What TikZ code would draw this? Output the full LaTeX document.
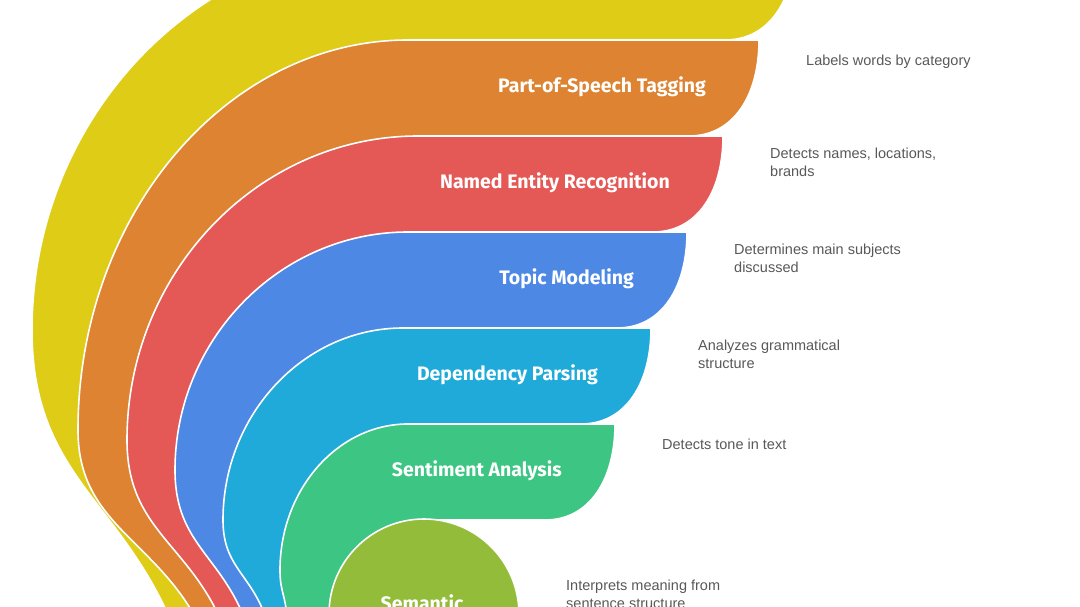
\documentclass[tikz,border=0pt]{standalone}
\usepackage{fontspec}
\setmainfont{Liberation Sans}
\newfontfamily\lab{Fira Sans}
\begin{document}
\begin{tikzpicture}[x=1pt,y=-1pt,
  lbl/.style={font=\lab\bfseries\fontsize{19.5}{20}\selectfont,text=white,anchor=east,inner sep=0},
  dsc/.style={font=\fontsize{14.5}{18}\selectfont,text=black!65,anchor=north west,align=left,inner sep=0}]
\newcommand\myband[7]{% color, ytop, xr, xl, ym, xb, xt
  \pgfmathsetmacro\xa{#6-0.4*(#6-#4)}
  \pgfmathsetmacro\ya{607-0.4*(607-#5)}
  \pgfmathsetmacro\yb{#5+0.5*(607-#5)}
  \pgfmathsetmacro\yc{#5-0.55*(#5-#2)}
  \pgfmathsetmacro\xc{#7-0.55*(#7-#4)}
  \pgfmathsetmacro\yd{#2+96}
  \pgfmathsetmacro\ye{#2+55}
  \pgfmathsetmacro\xe{#3-25}
  \pgfmathsetmacro\xf{#3-70}
  \fill[#1,draw=white,line width=1.6pt] (#6,608) .. controls (\xa,\ya) and (#4,\yb) .. (#4,#5)
    .. controls (#4,\yc) and (\xc,#2) .. (#7,#2) -- (#3,#2)
    .. controls (#3,\ye) and (\xe,\yd) .. (\xf,\yd) -- (424,\yd) -- (424,700) -- cycle;}
\clip (0,0) rectangle (1080,607);
\fill[white] (0,0) rectangle (1080,607);
\definecolor{cy}{HTML}{DFCC17}\definecolor{co}{HTML}{DD8331}\definecolor{cr}{HTML}{E45855}
\definecolor{cb}{HTML}{4D88E5}\definecolor{cc}{HTML}{20AAD9}\definecolor{cg}{HTML}{3CC583}
\definecolor{cl}{HTML}{93BC3A}
\myband{cy}{-56}{795}{32}{330}{165}{400}
\myband{co}{40}{759}{78}{430}{190}{408}
\myband{cr}{136}{723}{127}{440}{215}{418}
\myband{cb}{232}{687}{175}{470}{240}{408}
\myband{cc}{328}{651}{223}{520}{262}{403}
\myband{cg}{424}{615}{280}{570}{286}{408}
\node[circle,fill=cl,draw=white,line width=1.6pt,minimum size=190pt] (sem) at (424,614) {};
\node[lbl] (t1) at (706,87) {Part-of-Speech Tagging};
\node[lbl] (t2) at (670,183) {Named Entity Recognition};
\node[lbl] (t3) at (634,279) {Topic Modeling};
\node[lbl] (t4) at (598,375) {Dependency Parsing};
\node[lbl] (t5) at (562,471) {Sentiment Analysis};
\node[lbl,anchor=center] (t6) at (422,603) {Semantic};
\node[dsc] (d1) at (806,55) {Labels words by category};
\node[dsc] (d2) at (770,148) {Detects names, locations,\\brands};
\node[dsc] (d3) at (734,244) {Determines main subjects\\discussed};
\node[dsc] (d4) at (698,340) {Analyzes grammatical\\structure};
\node[dsc] (d5) at (662,439) {Detects tone in text};
\node[dsc] (d6) at (566,580) {Interprets meaning from\\sentence structure};
\end{tikzpicture}
\end{document}
